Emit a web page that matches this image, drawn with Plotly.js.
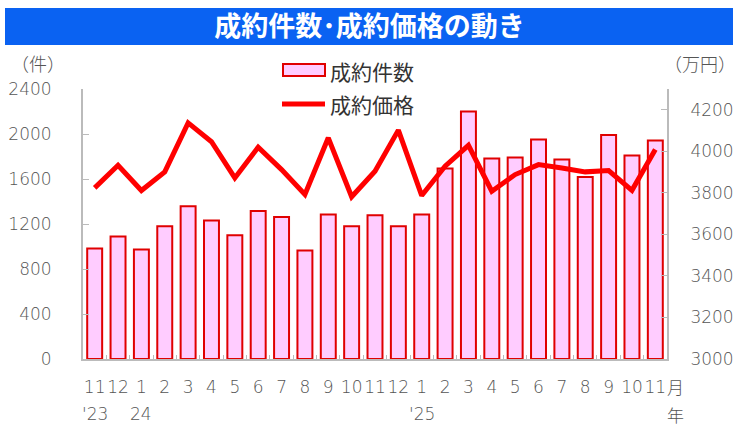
<!DOCTYPE html>
<html><head><meta charset="utf-8">
<script src="https://cdn.plot.ly/plotly-3.0.1.min.js"></script>
<style>body{margin:0;background:#fff}#c{width:739px;height:428px}</style>
</head><body><div id="c"></div>
<script>
const months = ['2023-11','2023-12','2024-01','2024-02','2024-03','2024-04','2024-05','2024-06','2024-07','2024-08','2024-09','2024-10','2024-11','2024-12','2025-01','2025-02','2025-03','2025-04','2025-05','2025-06','2025-07','2025-08','2025-09','2025-10','2025-11'];
const monthLabels = ['11','12','1','2','3','4','5','6','7','8','9','10','11','12','1','2','3','4','5','6','7','8','9','10','11'];
const yearLabels = [{at:'2023-11',text:"'23"},{at:'2024-01',text:'24'},{at:'2025-01',text:"'25"}];
const contracts = [983,1090,974,1179,1357,1232,1099,1316,1262,965,1285,1179,1277,1179,1285,1694,2201,1783,1792,1952,1774,1618,1991,1810,1943];
const prices = [3824,3933,3811,3901,4137,4046,3872,4020,3912,3792,4065,3781,3904,4102,3787,3928,4029,3808,3888,3936,3920,3901,3907,3812,4009];
const leftTicks = [0,400,800,1200,1600,2000,2400];
const rightTicks = [3000,3200,3400,3600,3800,4000,4200];
const seriesNames = ['成約件数','成約価格'];

const tickFont = {family:'DejaVu Sans ExtraLight, DejaVu Sans, sans-serif', size:17, color:'#555', weight:200};
const cjk = 'Noto Sans CJK JP, sans-serif';
const unitFont = {family:cjk, size:18, color:'#555', weight:300};
const barFill = '#FFCCFF', barLine = '#E00000', lineColor = '#FF0000';

const traces = [
  {type:'bar', x:months, y:contracts, name:seriesNames[0],
   marker:{color:barFill, line:{color:barLine, width:2}}, width:0.64},
  {type:'scatter', mode:'lines', x:months, y:prices, name:seriesNames[1], yaxis:'y2',
   line:{color:lineColor, width:5}}
];

const px = v => (v-83)/584, py = v => (359-v)/270;

const annotations = yearLabels.map(d => ({x:d.at, xref:'x', y:py(414), yref:'paper', text:d.text, showarrow:false, font:tickFont, xanchor:'center', yanchor:'middle'}));
annotations.push({x:px(675), xref:'paper', y:py(386), yref:'paper', text:'月', showarrow:false, font:{family:cjk,size:17,color:'#555',weight:300}, xanchor:'center', yanchor:'middle'});
annotations.push({x:px(675), xref:'paper', y:py(414), yref:'paper', text:'年', showarrow:false, font:{family:cjk,size:17,color:'#555',weight:300}, xanchor:'center', yanchor:'middle'});
annotations.push({x:px(38), xref:'paper', y:py(63), yref:'paper', text:'（件）', showarrow:false, font:unitFont, xanchor:'center', yanchor:'middle'});
annotations.push({x:px(700), xref:'paper', y:py(63), yref:'paper', text:'（万円）', showarrow:false, font:unitFont, xanchor:'center', yanchor:'middle'});
annotations.push({x:px(328), xref:'paper', y:py(71), yref:'paper', text:seriesNames[0], showarrow:false, font:{family:cjk,size:21,color:'#333'}, xanchor:'left', yanchor:'middle'});
annotations.push({x:px(328), xref:'paper', y:py(104), yref:'paper', text:seriesNames[1], showarrow:false, font:{family:cjk,size:21,color:'#333'}, xanchor:'left', yanchor:'middle'});

const shapes = [
  {type:'rect', xref:'paper', yref:'paper', x0:px(5), x1:px(733), y0:py(45), y1:py(8), fillcolor:'#0A62F2', line:{width:0}, layer:'below'},
  {type:'rect', xref:'paper', yref:'paper', x0:px(283), x1:px(325), y0:py(76), y1:py(64), fillcolor:barFill, line:{color:barLine, width:2}},
  {type:'line', xref:'paper', yref:'paper', x0:px(282), x1:px(325), y0:py(104), y1:py(104), line:{color:lineColor, width:5}}
];

const layout = {
  width:739, height:428,
  margin:{l:83, r:72, t:89, b:69},
  paper_bgcolor:'#fff', plot_bgcolor:'#fff',
  title:{text:'<b>成約件数･成約価格の動き</b>', font:{family:cjk, size:27, color:'#fff'}, x:0.5, xanchor:'center', y:1-27/428, yanchor:'middle', yref:'container'},
  shapes:shapes,
  showlegend:false,
  xaxis:{type:'category', range:[-0.5,24.5], tickmode:'array', tickvals:months, ticktext:monthLabels, tickfont:tickFont, tickangle:0,
    showline:true, linecolor:'#bbb', linewidth:2, ticks:'inside', tickson:'boundaries', ticklen:4, tickcolor:'#bbb', showgrid:false, ticklabelstandoff:12},
  yaxis:{range:[0,2400], tickvals:leftTicks, tickfont:tickFont, showline:true, linecolor:'#bbb', linewidth:2, ticks:'inside', ticklen:6, tickcolor:'#bbb', showgrid:false, zeroline:false, ticklabelstandoff:26},
  yaxis2:{range:[3000,4300], tickvals:rightTicks, tickfont:tickFont, overlaying:'y', side:'right', showline:true, linecolor:'#bbb', linewidth:2, ticks:'inside', ticklen:6, tickcolor:'#bbb', showgrid:false, zeroline:false, ticklabelstandoff:18},
  annotations:annotations
};
Plotly.newPlot('c', traces, layout, {displayModeBar:false, staticPlot:true});
</script></body></html>
